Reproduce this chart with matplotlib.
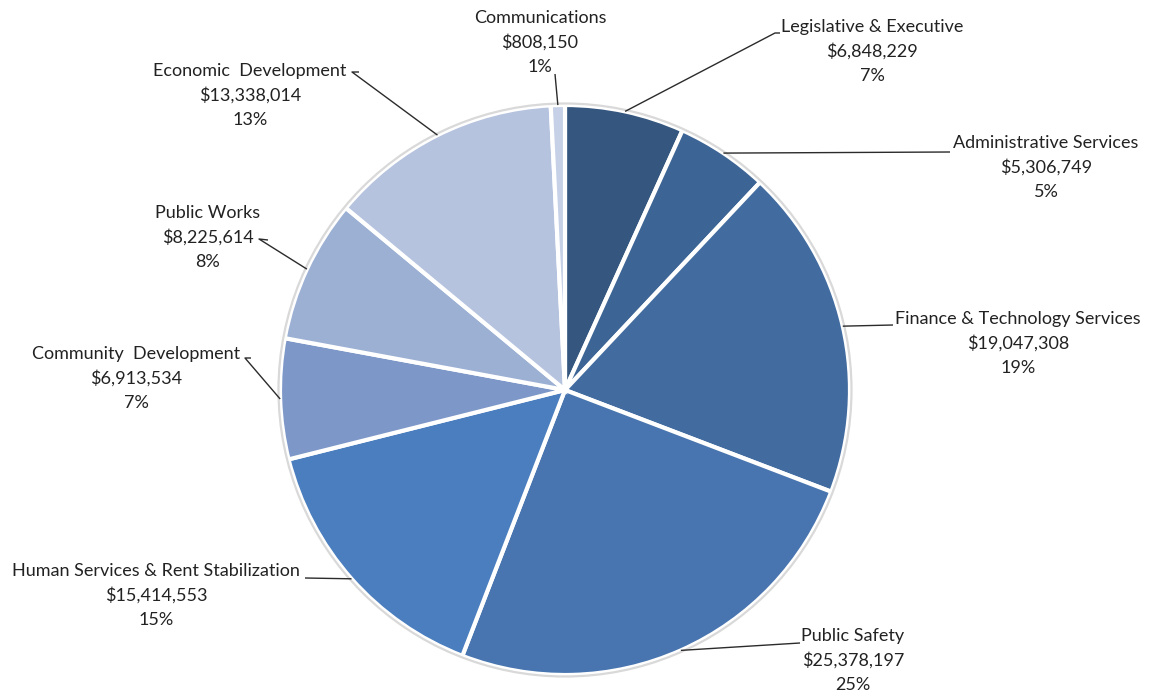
import numpy as np
import matplotlib
matplotlib.use('Agg')
import matplotlib.pyplot as plt
from matplotlib.patches import Circle

# ── Budget by department ──────────────────────────────────────────────────────
departments = [
    'Legislative & Executive',
    'Administrative Services',
    'Finance & Technology Services',
    'Public Safety',
    'Human Services & Rent Stabilization',
    'Community  Development',
    'Public Works',
    'Economic  Development',
    'Communications',
]
amounts = [6848229, 5306749, 19047308, 25378197, 15414553,
           6913534, 8225614, 13338014, 808150]
colors = ['#35577f', '#3c6495', '#426ca0', '#4875af', '#4b7ebe',
          '#7d98c8', '#9cb0d4', '#b6c3df', '#c6d1e7']

# label block centre (x, y of first line) and where the leader line meets the text
LABEL_POS = [
    (872, 27, [(775, 33), (780, 33)]),
    (1046, 143, [(950, 152)]),
    (1018, 319, [(893, 325)]),
    (853, 636, [(800, 643)]),
    (156, 571, [(305, 578)]),
    (136, 354, [(245, 358), (251, 358)]),
    (208, 213, [(259, 239), (268, 240)]),
    (250, 71, [(352, 72), (359, 72)]),
    (540, 18, [(555, 74)]),
]

W, H = 1149, 696
CX, CY, R = 565, 306, 285
LINE_H = 24.5

plt.rcParams['font.family'] = ['Lato', 'DejaVu Sans']

fig = plt.figure(figsize=(W / 100, H / 100), dpi=100)
ax = fig.add_axes([0, 0, 1, 1])

wedges, _ = ax.pie(amounts, colors=colors, startangle=90, counterclock=False,
                   center=(CX, CY), radius=R,
                   wedgeprops=dict(edgecolor='white', linewidth=3.0))
ax.add_patch(Circle((CX, CY), R + 1.5, fill=False, edgecolor='#d9d9d9', lw=1.6))

ax.set_xlim(0, W)
ax.set_ylim(0, H)
ax.set_aspect('equal')
ax.axis('off')

total = sum(amounts)
for w, name, amt, (tx, ty, pts) in zip(wedges, departments, amounts, LABEL_POS):
    mid = np.deg2rad((w.theta1 + w.theta2) / 2)
    edge = (CX + R * np.cos(mid), CY + R * np.sin(mid))
    xs = [edge[0]] + [p[0] for p in pts]
    ys = [edge[1]] + [H - p[1] for p in pts]
    ax.plot(xs, ys, color='#2b2b2b', lw=1.0, solid_capstyle='butt')
    pct = round(100 * amt / total)
    lines = [name, f'${amt:,}', f'{pct}%']
    for i, s in enumerate(lines):
        ax.text(tx, H - (ty + i * LINE_H), s, ha='center', va='center',
                fontsize=13, color='#222222')

fig.savefig('out.png', dpi=100)
